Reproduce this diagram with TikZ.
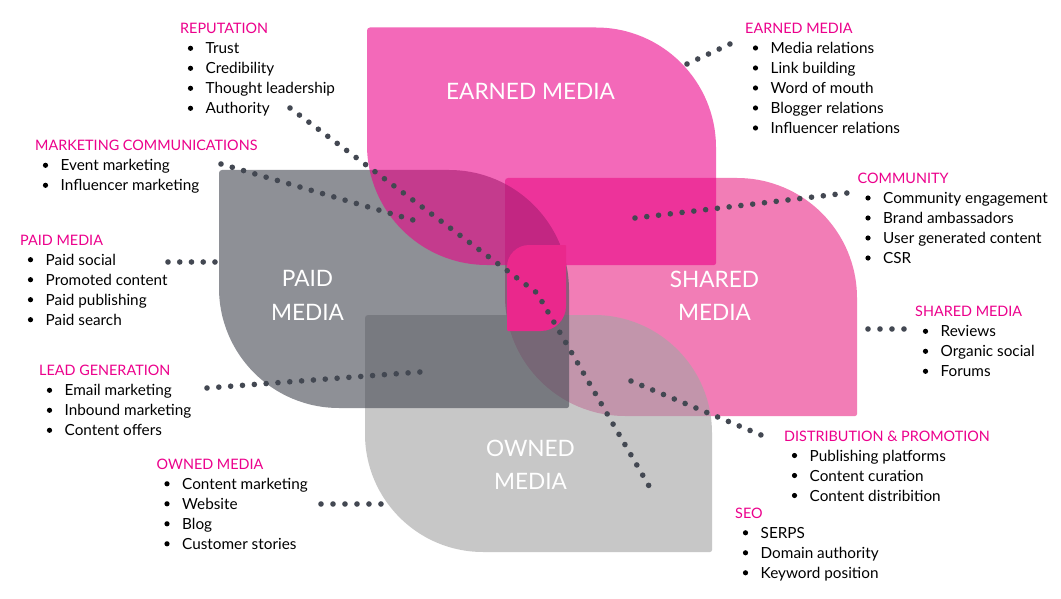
\documentclass[tikz,border=0pt]{standalone}
\usepackage{fontspec}
\setmainfont{Lato}
\definecolor{pinkhd}{RGB}{236,0,140}
\definecolor{dotc}{RGB}{67,72,82}
\definecolor{sharedc}{RGB}{242,125,182}
\definecolor{ownedc}{RGB}{165,165,165}
\definecolor{paidc}{RGB}{73,76,86}
\definecolor{earnedc}{RGB}{235,0,136}
\definecolor{centerc}{RGB}{234,40,140}
% L T R B rTL rTR rBR rBL
\newcommand\leafshape[8]{({#1+#5},#2) -- ({#3-#6},#2) arc[start angle=270,end angle=360,radius=#6] -- (#3,{#4-#7}) arc[start angle=0,end angle=90,radius=#7] -- ({#1+#8},#4) arc[start angle=90,end angle=180,radius=#8] -- (#1,{#2+#5}) arc[start angle=180,end angle=270,radius=#5] -- cycle}
\newcommand\grp[5]{%
  \node[hd] (#1) at (#2,{#3+5.5}) {#4};
  \foreach \t [count=\i] in {#5} {
    \node[itm] (#1-\i) at ({#2+25.5},{#3+5.5+20*\i}) {\t};
    \fill ({#2+10.5},{#3+20*\i}) circle (2.6);
  }%
}
\tikzset{
  hd/.style={anchor=base west, inner sep=0pt, text=pinkhd, font=\fontsize{14.4}{18}\selectfont},
  itm/.style={anchor=base west, inner sep=0pt, text=black, font=\fontsize{15.3}{18}\selectfont},
  big/.style={align=center, inner sep=0pt, text=white, font=\fontsize{22.6}{33.3}\selectfont},
  dotline/.style={draw=dotc, line width=5.6pt, line cap=round, dash pattern=on 0pt off #1},
  dotline/.default=11.8pt
}
\begin{document}
\begin{tikzpicture}[x=1pt,y=-1pt]
\useasboundingbox (0,0) rectangle (1061,599);
\fill[white] (0,0) rectangle (1061,599);
% shapes
\fill[sharedc] \leafshape{505}{178}{857}{416}{3}{120}{2}{120};
\fill[ownedc, fill opacity=0.61] \leafshape{365}{315}{712}{552}{3}{118}{2}{118};
\fill[paidc, fill opacity=0.62] \leafshape{219}{170}{569}{408}{3}{120}{2}{120};
\fill[earnedc, fill opacity=0.59] \leafshape{367}{27.5}{716}{265}{3}{120}{2}{120};
\fill[centerc] \leafshape{507}{245}{566}{331}{22}{1}{25}{1};
% big labels
\node[big] (earnedlbl) at (530.5,91.7) {EARNED MEDIA};
\node[big] (paidlbl) at (307.5,295.4) {PAID\\MEDIA};
\node[big] (sharedlbl) at (714.5,295.5) {SHARED\\MEDIA};
\node[big] (ownedlbl) at (530.5,465) {OWNED\\MEDIA};
% lists
\grp{rep}{180}{28.3}{REPUTATION}{Trust,Credibility,Thought leadership,Authority}
\grp{mc}{35}{145.3}{MARKETING COMMUNICATIONS}{Event marketing,Influencer marketing}
\grp{pm}{20}{239.7}{PAID MEDIA}{Paid social,Promoted content,Paid publishing,Paid search}
\grp{lg}{39}{370.3}{LEAD GENERATION}{Email marketing,Inbound marketing,Content offers}
\grp{om}{156.5}{463.8}{OWNED MEDIA}{Content marketing,Website,Blog,Customer stories}
\grp{em}{745}{28}{EARNED MEDIA}{Media relations,Link building,Word of mouth,Blogger relations,Influencer relations}
\grp{cm}{857.5}{178}{COMMUNITY}{Community engagement,Brand ambassadors,User generated content,CSR}
\grp{sm}{915}{311.3}{SHARED MEDIA}{Reviews,Organic social,Forums}
\grp{dp}{784}{435.5}{DISTRIBUTION \& PROMOTION}{Publishing platforms,Content curation,Content distribition}
\grp{seo}{735}{512.8}{SEO}{SERPS,Domain authority,Keyword position}
% connector end points
\coordinate (a1) at (290,108); \coordinate (a2) at (537,293); \coordinate (a3) at (649,486);
\coordinate (b1) at (221,164); \coordinate (b2) at (413,220);
\coordinate (c1) at (168,262); \coordinate (c2) at (215,262);
\coordinate (d1) at (207,388); \coordinate (d2) at (420,372);
\coordinate (e1) at (321,504); \coordinate (e2) at (381,504);
\coordinate (f1) at (687,64);  \coordinate (f2) at (730,44);
\coordinate (g1) at (635,218); \coordinate (g2) at (847,193);
\coordinate (h1) at (868,329); \coordinate (h2) at (904,329);
\coordinate (k1) at (631,381); \coordinate (k2) at (761,435);
% dotted connectors
\draw[dotline=11.80pt] (a1) -- (a2) -- (a3);
\draw[dotline=11.75pt] (b1) -- (b2);
\draw[dotline=11.74pt] (c1) -- (c2);
\draw[dotline=11.86pt] (d1) -- (d2);
\draw[dotline=11.99pt] (e1) -- (e2);
\draw[dotline=11.84pt] (f1) -- (f2);
\draw[dotline=11.85pt] (g1) -- (g2);
\draw[dotline=11.99pt] (h1) -- (h2);
\draw[dotline=11.72pt] (k1) -- (k2);
\end{tikzpicture}
\end{document}
